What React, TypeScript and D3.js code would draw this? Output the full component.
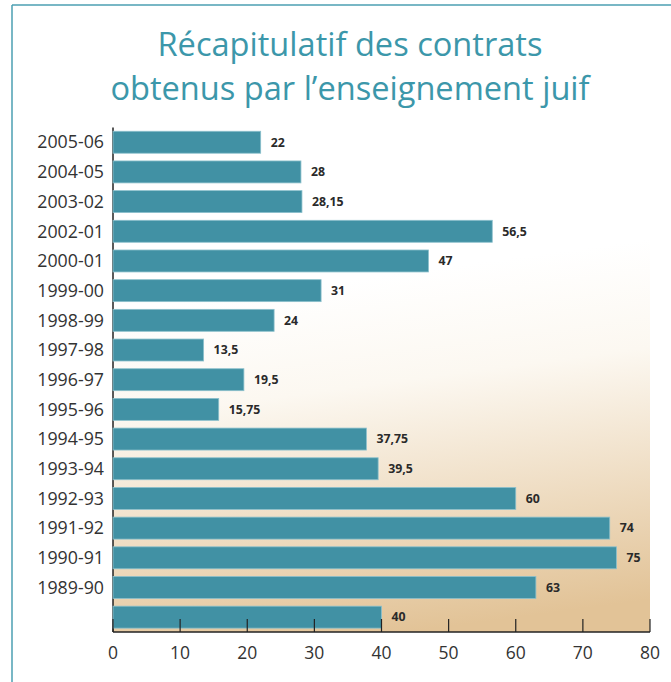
import React from "react";
import * as d3 from "d3";

// rows from top to bottom (last bar has no label in the source)
const seasons = ["2005-06", "2004-05", "2003-02", "2002-01", "2000-01", "1999-00", "1998-99", "1997-98", "1996-97", "1995-96", "1994-95", "1993-94", "1992-93", "1991-92", "1990-91", "1989-90", ""];
const contracts = [22, 28, 28.15, 56.5, 47, 31, 24, 13.5, 19.5, 15.75, 37.75, 39.5, 60, 74, 75, 63, 40];
const xTicks = [0, 10, 20, 30, 40, 50, 60, 70, 80];
const titleLines = ["Récapitulatif des contrats", "obtenus par l’enseignement juif"];

const W = 671;
const H = 682;
const left = 113;
const right = 650;
const top = 127.4;
const bottom = 632;

const fmt = (v: number) => String(v).replace(".", ",");

export default function App() {
  const x = d3.scaleLinear().domain([0, 80]).range([left, right]);
  const y = d3
    .scaleBand<number>()
    .domain(d3.range(seasons.length))
    .range([top, bottom])
    .paddingInner(0.26)
    .paddingOuter(0.13);

  const font = "'Open Sans', sans-serif";

  return (
    <svg width={W} height={H} style={{ position: "absolute", left: 0, top: 0, background: "#fff" }}>
      <defs>
        <linearGradient id="bg" x1="0.45" y1="0.3" x2="0.55" y2="1">
          <stop offset="0" stopColor="#ffffff" />
          <stop offset="0.3" stopColor="#fcf8f1" />
          <stop offset="1" stopColor="#e2c397" />
        </linearGradient>
      </defs>

      {/* frame */}
      <line x1={12} y1={5} x2={W} y2={5} stroke="#4b9fb2" strokeWidth={1.5} />
      <line x1={12} y1={5} x2={12} y2={H} stroke="#4b9fb2" strokeWidth={1.5} />

      {titleLines.map((t, i) => (
        <text key={i} x={350} y={56 + i * 44} textAnchor="middle" fill="#3c97aa" fontFamily={font} fontSize={32.6}>
          {t}
        </text>
      ))}

      <rect x={left} y={top} width={right - left} height={bottom - top} fill="url(#bg)" />

      {/* y axis */}
      <line x1={left} y1={top} x2={left} y2={bottom} stroke="#222" strokeWidth={1.5} />

      {contracts.map((v, i) => {
        const by = y(i) as number;
        return (
          <g key={i}>
            <rect x={x(0)} y={by} width={x(v) - x(0)} height={y.bandwidth()} fill="#4191a4" stroke="#8cc0cc" strokeWidth={0.8} />
            <text x={x(v) + 10} y={by + y.bandwidth() / 2} dy="0.35em" fontFamily={font} fontWeight={700} fontSize={12.3} fill="#2a2a2a">
              {fmt(v)}
            </text>
            {seasons[i] && (
              <text x={104} y={by + y.bandwidth() / 2} dy="0.35em" textAnchor="end" fontFamily={font} fontSize={17.8} fill="#333">
                {seasons[i]}
              </text>
            )}
          </g>
        );
      })}

      {/* x axis */}
      <line x1={left} y1={bottom} x2={right} y2={bottom} stroke="#222" strokeWidth={1.5} />
      {xTicks.map((t) => (
        <g key={t}>
          <line x1={x(t)} y1={bottom} x2={x(t)} y2={bottom - 13} stroke="#222" strokeWidth={1.2} />
          <text x={x(t)} y={bottom + 21} dy="0.35em" textAnchor="middle" fontFamily={font} fontSize={17.5} fill="#333">
            {t}
          </text>
        </g>
      ))}
    </svg>
  );
}
